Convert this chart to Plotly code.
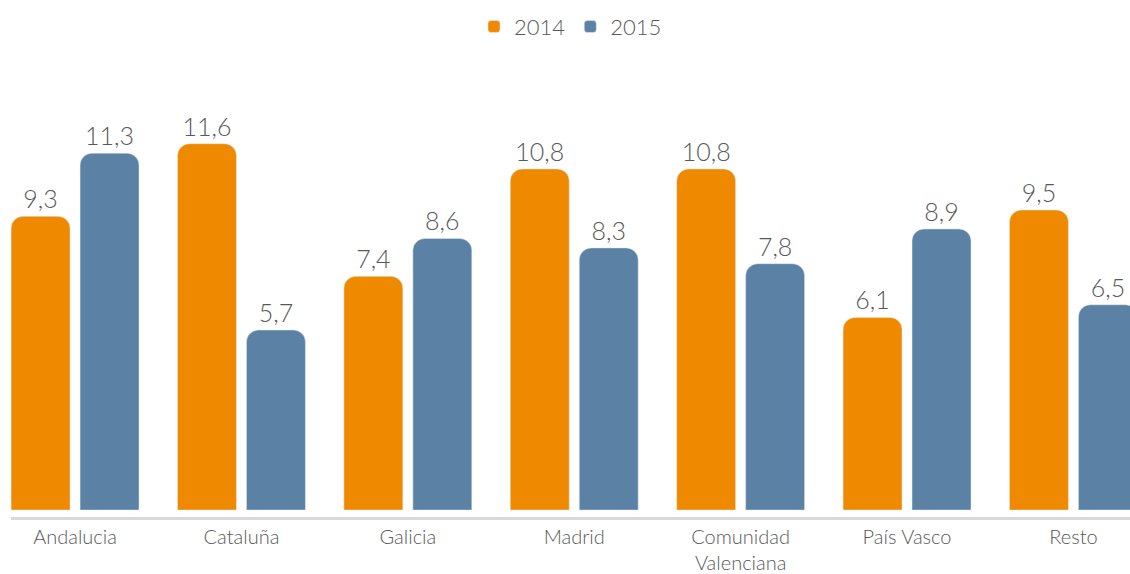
import plotly.graph_objects as go

categories = ["Andalucia", "Cataluña", "Galicia", "Madrid", "Comunidad<br>Valenciana", "País Vasco", "Resto"]
values_2014 = [9.3, 11.6, 7.4, 10.8, 10.8, 6.1, 9.5]
values_2015 = [11.3, 5.7, 8.6, 8.3, 7.8, 8.9, 6.5]

ORANGE = "#EF8A00"
BLUE = "#5B81A5"
TEXT = "#595959"
FONT = "Lato, 'Open Sans', sans-serif"

fig = go.Figure()
fig.add_trace(go.Bar(name="2014", x=categories, y=values_2014, marker_color=ORANGE,
                     texttemplate="%{y:.1f}", textposition="outside", cliponaxis=False,
                     textfont=dict(size=25, color=TEXT, family=FONT, weight=300)))
fig.add_trace(go.Bar(name="2015", x=categories, y=values_2015, marker_color=BLUE,
                     texttemplate="%{y:.1f}", textposition="outside", cliponaxis=False,
                     textfont=dict(size=25, color=TEXT, family=FONT, weight=300)))

fig.update_layout(
    width=1130, height=574,
    margin=dict(l=11, r=0, t=60, b=55),
    paper_bgcolor="white", plot_bgcolor="white",
    separators=",.",
    barmode="group", bargap=0.171, bargroupgap=0.145,
    barcornerradius=12,
    font=dict(family=FONT, color=TEXT, size=20, weight=300),
    showlegend=True,
    legend=dict(orientation="h", x=0.5, xanchor="center", y=0.99, yanchor="top",
                yref="container", font=dict(size=22, color=TEXT, family=FONT, weight=300)),
    xaxis=dict(range=[-0.385, 6.34], showline=True, linecolor="#D9D9D9", linewidth=3,
               ticks="", tickfont=dict(size=20, color=TEXT, family=FONT, weight=300),
               showgrid=False),
    yaxis=dict(range=[-0.22, 14.25], visible=False, showgrid=False, zeroline=False),
)

fig.write_html("out.html", config={"displayModeBar": False},
               post_script="document.body.style.margin='0';document.body.style.overflow='hidden';")
